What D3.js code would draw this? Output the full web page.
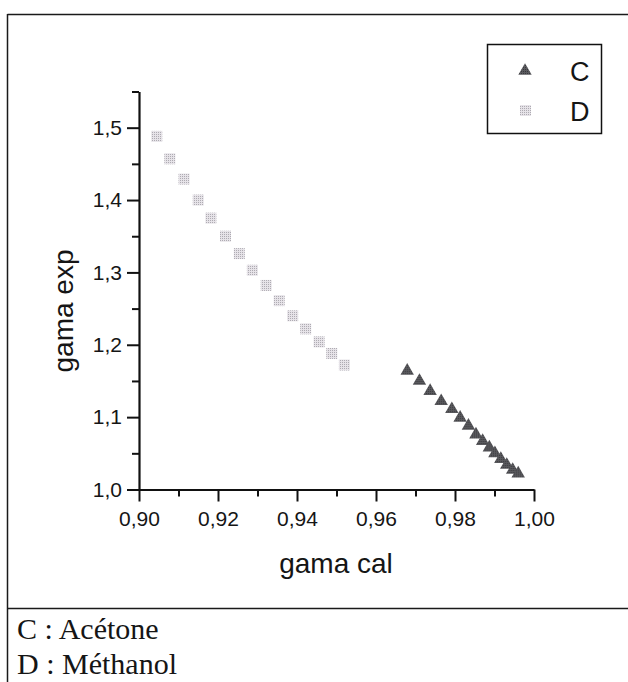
<!DOCTYPE html>
<html>
<head>
<meta charset="utf-8">
<script src="https://d3js.org/d3.v7.min.js"></script>
<style>
  html, body { margin: 0; padding: 0; background: #fff; }
  svg { display: block; }
</style>
</head>
<body>
<script>
// ---- data ----
const seriesNames = ["C", "D"];
const cX = [0.9679, 0.9710, 0.9737, 0.9765, 0.9792, 0.9813, 0.9834, 0.9853, 0.9870, 0.9887, 0.9901, 0.9916, 0.9931, 0.9946, 0.9960];
const cY = [1.164, 1.150, 1.136, 1.122, 1.111, 1.099, 1.088, 1.076, 1.067, 1.058, 1.050, 1.042, 1.034, 1.027, 1.022];
const dX = [0.9045, 0.9078, 0.9114, 0.9150, 0.9182, 0.9219, 0.9254, 0.9287, 0.9322, 0.9355, 0.9389, 0.9422, 0.9456, 0.9488, 0.9520];
const dY = [1.488, 1.457, 1.429, 1.400, 1.375, 1.350, 1.326, 1.303, 1.282, 1.261, 1.240, 1.222, 1.204, 1.188, 1.172];
const xMajorTicks = [0.90, 0.92, 0.94, 0.96, 0.98, 1.00];
const xMinorTicks = [0.91, 0.93, 0.95, 0.97, 0.99];
const yMajorTicks = [1.0, 1.1, 1.2, 1.3, 1.4, 1.5];
const yMinorTicks = [1.05, 1.15, 1.25, 1.35, 1.45, 1.55];
const xTitle = "gama cal";
const yTitle = "gama exp";
const notes = ["C : Acétone", "D : Méthanol"];

// ---- layout ----
const W = 628, H = 682;
const svg = d3.select("body").append("svg").attr("width", W).attr("height", H);

const defs = svg.append("defs");
const pat = defs.append("pattern").attr("id", "dots").attr("width", 2).attr("height", 2)
  .attr("patternUnits", "userSpaceOnUse");
pat.append("rect").attr("width", 2).attr("height", 2).attr("fill", "#e6e3e8");
pat.append("rect").attr("width", 1).attr("height", 1).attr("fill", "#aeabb2");
const pat2 = defs.append("pattern").attr("id", "dark").attr("width", 2).attr("height", 2)
  .attr("patternUnits", "userSpaceOnUse");
pat2.append("rect").attr("width", 2).attr("height", 2).attr("fill", "#5a5a5e");
pat2.append("rect").attr("width", 1).attr("height", 1).attr("fill", "#38383c");

// frame
const frame = svg.append("g").attr("stroke", "#1a1a1a").attr("stroke-width", 1.5).attr("fill", "none");
frame.append("line").attr("x1", 7.5).attr("x2", W).attr("y1", 14.5).attr("y2", 14.5);
frame.append("line").attr("x1", 7.5).attr("x2", 7.5).attr("y1", 14).attr("y2", H);
frame.append("line").attr("x1", 7.5).attr("x2", W).attr("y1", 608.5).attr("y2", 608.5);

const x = d3.scaleLinear().domain([0.90, 1.00]).range([139, 534]);
const y = d3.scaleLinear().domain([1.0, 1.55]).range([489.5, 91.5]);

const fmtX = d => d3.format(".2f")(d).replace(".", ",");
const fmtY = d => d3.format(".1f")(d).replace(".", ",");
const sans = "'Liberation Sans', Arial, sans-serif";

// x axis
const gx = svg.append("g").attr("transform", `translate(0,${y(1.0)})`);
gx.call(d3.axisBottom(x).tickValues(xMajorTicks).tickSize(12).tickSizeOuter(0).tickPadding(10).tickFormat(fmtX));
gx.append("g").call(d3.axisBottom(x).tickValues(xMinorTicks).tickSize(7).tickSizeOuter(0).tickFormat(""))
  .select(".domain").remove();
// y axis
const gy = svg.append("g").attr("transform", `translate(${x(0.90)},0)`);
gy.call(d3.axisLeft(y).tickValues(yMajorTicks).tickSize(12).tickSizeOuter(0).tickPadding(5).tickFormat(fmtY));
gy.append("g").call(d3.axisLeft(y).tickValues(yMinorTicks).tickSize(7).tickSizeOuter(0).tickFormat(""))
  .select(".domain").remove();

svg.selectAll(".domain").attr("stroke", "#111").attr("stroke-width", 2.2);
svg.selectAll(".tick line").attr("stroke", "#111").attr("stroke-width", 2);
svg.selectAll(".tick text").attr("font-family", sans).attr("font-size", 21).attr("fill", "#151515");

// titles
svg.append("text").attr("x", 336).attr("y", 573).attr("text-anchor", "middle")
  .attr("font-family", sans).attr("font-size", 28).attr("fill", "#151515").text(xTitle);
svg.append("text").attr("transform", "translate(73,311) rotate(-90)").attr("text-anchor", "middle")
  .attr("font-family", sans).attr("font-size", 28).attr("fill", "#151515").text(yTitle);

// markers
const tri = d3.symbol().type(d3.symbolTriangle).size(78);
const dData = dX.map((v, i) => ({ x: v, y: dY[i] }));
const cData = cX.map((v, i) => ({ x: v, y: cY[i] }));
svg.append("g").selectAll("rect").data(dData).join("rect")
  .attr("x", d => x(d.x) - 5.5).attr("y", d => y(d.y) - 5.5)
  .attr("width", 11).attr("height", 11).attr("fill", "url(#dots)");
svg.append("g").selectAll("path").data(cData).join("path")
  .attr("transform", d => `translate(${x(d.x)},${y(d.y)})`)
  .attr("d", tri).attr("fill", "url(#dark)");

// legend
const lg = svg.append("g");
lg.append("rect").attr("x", 487.5).attr("y", 44.5).attr("width", 114).attr("height", 89)
  .attr("fill", "#fff").attr("stroke", "#111").attr("stroke-width", 1.5);
lg.append("path").attr("transform", "translate(525,71)").attr("d", tri).attr("fill", "url(#dark)");
lg.append("rect").attr("x", 520).attr("y", 105).attr("width", 11).attr("height", 11).attr("fill", "url(#dots)");
lg.selectAll("text.lab").data(seriesNames).join("text").attr("class", "lab")
  .attr("x", 570).attr("y", (d, i) => 81 + i * 40)
  .attr("font-family", sans).attr("font-size", 27).attr("fill", "#151515").text(d => d);

// notes below
svg.selectAll("text.note").data(notes).join("text").attr("class", "note")
  .attr("x", 17).attr("y", (d, i) => 639 + i * 35)
  .attr("font-family", "'Liberation Serif', 'Times New Roman', serif").attr("font-size", 30)
  .attr("fill", "#151515").text(d => d);
</script>
</body>
</html>
